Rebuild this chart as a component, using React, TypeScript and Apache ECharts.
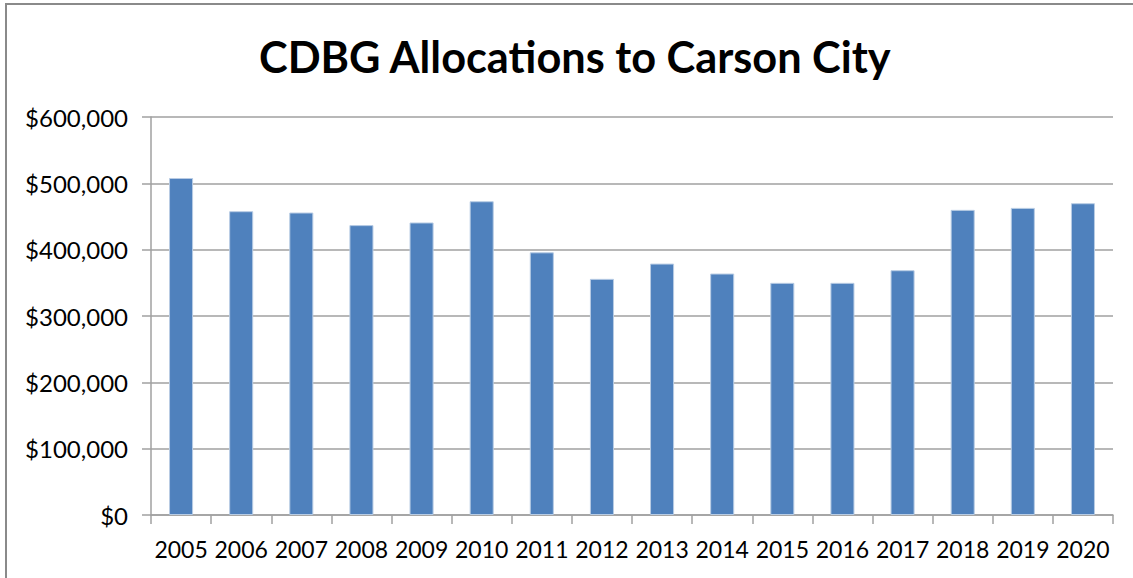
import React, { useEffect, useRef } from "react";
import * as echarts from "echarts";

const years = ["2005", "2006", "2007", "2008", "2009", "2010", "2011", "2012", "2013", "2014", "2015", "2016", "2017", "2018", "2019", "2020"];
const allocations = [508000, 458000, 456000, 437000, 441000, 473000, 396000, 356000, 379000, 364000, 350000, 350000, 369000, 460000, 463000, 470000];
const title = "CDBG Allocations to Carson City";

const fmt = (v: number) => "$" + v.toLocaleString("en-US");

export default function App() {
  const ref = useRef<HTMLDivElement>(null);
  useEffect(() => {
    const chart = echarts.init(ref.current!, null, { renderer: "svg" });
    chart.setOption({
      animation: false,
      backgroundColor: "#ffffff",
      textStyle: { fontFamily: "Lato" },
      title: {
        text: title,
        left: 254,
        top: 29,
        textStyle: { fontFamily: "Lato", fontWeight: "bold", fontSize: 43.3, color: "#000" },
      },
      graphic: [
        {
          type: "rect",
          shape: { x: 6, y: 4, width: 1300, height: 800 },
          style: { fill: "none", stroke: "#8a8a8a", lineWidth: 2 },
          silent: true,
        },
      ],
      grid: { left: 151, right: 20, top: 117, bottom: 63, containLabel: false },
      xAxis: {
        type: "category",
        data: years,
        boundaryGap: true,
        axisLine: { show: true, lineStyle: { color: "#a0a0a0", width: 1.5 } },
        axisTick: { show: true, alignWithLabel: false, length: 9, lineStyle: { color: "#a0a0a0", width: 1.5 } },
        axisLabel: { color: "#000", fontSize: 23, fontFamily: "Lato", margin: 22, interval: 0 },
      },
      yAxis: {
        type: "value",
        min: 0,
        max: 600000,
        interval: 100000,
        axisLine: { show: true, lineStyle: { color: "#a0a0a0", width: 1.5 } },
        axisTick: { show: true, length: 9, lineStyle: { color: "#a0a0a0", width: 1.5 } },
        splitLine: { show: true, lineStyle: { color: "#a0a0a0", width: 1.5 } },
        axisLabel: { color: "#000", fontSize: 24, fontFamily: "Lato", margin: 23, formatter: fmt },
      },
      series: [
        {
          type: "bar",
          data: allocations,
          barWidth: "40%",
          itemStyle: { color: "#4F81BD", borderColor: "#b8cce4", borderWidth: 1 },
        },
      ],
    });
    return () => chart.dispose();
  }, []);
  return <div ref={ref} style={{ position: "fixed", left: 0, top: 0, width: 1133, height: 578 }} />;
}
